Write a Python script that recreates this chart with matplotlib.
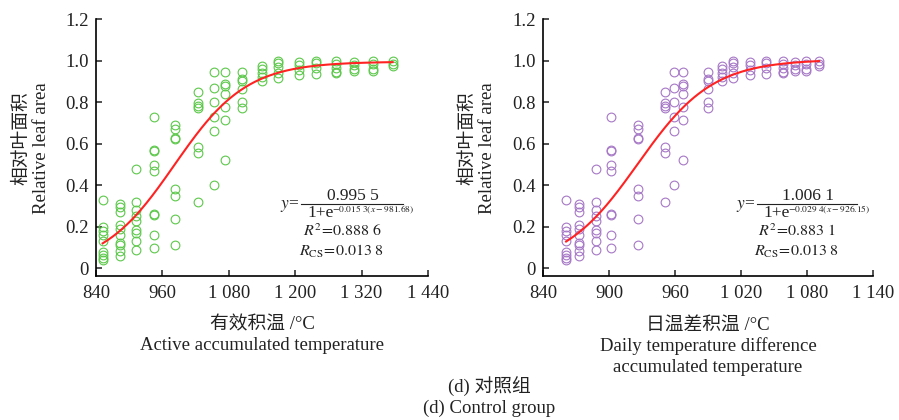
import matplotlib
matplotlib.use("Agg")
import matplotlib.pyplot as plt
from matplotlib.lines import Line2D
import numpy as np

plt.rcParams['font.family'] = ['Liberation Serif', 'Noto Sans CJK SC', 'DejaVu Sans']
plt.rcParams['mathtext.fontset'] = 'stix'

# ---- data ----
# y values of each column of points (same pattern in both panels)
col_y = [
    [0.33, 0.20, 0.18, 0.16, 0.13, 0.08, 0.065, 0.05, 0.04],
    [0.31, 0.295, 0.27, 0.21, 0.19, 0.16, 0.12, 0.11, 0.085, 0.06],
    [0.48, 0.32, 0.28, 0.25, 0.23, 0.185, 0.17, 0.13, 0.09],
    [0.73, 0.57, 0.565, 0.50, 0.47, 0.26, 0.255, 0.16, 0.10],
    [0.69, 0.67, 0.63, 0.625, 0.38, 0.35, 0.24, 0.11],
    [0.85, 0.795, 0.78, 0.77, 0.585, 0.557, 0.32],
    [0.947, 0.87, 0.80, 0.73, 0.66, 0.40],
    [0.947, 0.89, 0.878, 0.84, 0.775, 0.715, 0.52],
    [0.947, 0.91, 0.90, 0.862, 0.80, 0.77],
    [0.974, 0.958, 0.94, 0.92, 0.90],
    [1.0, 0.987, 0.97, 0.94, 0.915],
    [0.995, 0.98, 0.955, 0.93],
    [1.0, 0.987, 0.963, 0.935],
    [1.0, 0.985, 0.963, 0.947, 0.94],
    [0.995, 0.98, 0.958, 0.95],
    [1.0, 0.985, 0.958, 0.95],
    [1.0, 0.985, 0.974],
]
# x position of each column
active_x = [852, 883, 913, 945, 983, 1024, 1053, 1074, 1104, 1140,
            1169, 1207, 1238, 1274, 1307, 1341, 1376]
diff_x = [861, 873, 888, 902, 926, 951, 959, 967, 990, 1003,
          1013, 1028, 1043, 1058, 1069, 1079, 1091]

# logistic fit parameters shown on the chart: y = a / (1 + e^{-b(x - c)})
fit_active = (0.9955, 0.0153, 981.68)
fit_diff = (1.0061, 0.0294, 926.15)

left_xticks = [840, 960, 1080, 1200, 1320, 1440]
left_xticklabels = ['840', '960', '1 080', '1 200', '1 320', '1 440']
right_xticks = [840, 900, 960, 1020, 1080, 1140]
right_xticklabels = ['840', '900', '960', '1 020', '1 080', '1 140']
yticks = [0, 0.2, 0.4, 0.6, 0.8, 1.0, 1.2]
yticklabels = ['0', '0.2', '0.4', '0.6', '0.8', '1.0', '1.2']

left_num = '0.995 5'
left_exp = r'$-0.015\ 3(x-981.68)$'
left_r2 = r'$R^2\!=\!0.888\ 6$'
left_rcs = r'$R_{\mathrm{CS}}\!=\!0.013\ 8$'
right_num = '1.006 1'
right_exp = r'$-0.029\ 4(x-926.15)$'
right_r2 = r'$R^2\!=\!0.883\ 1$'
right_rcs = r'$R_{\mathrm{CS}}\!=\!0.013\ 8$'

# ---- figure ----
W, H = 899, 420
fig = plt.figure(figsize=(W / 100, H / 100), dpi=100)

def fx(px):
    return px / W

def fy(py):
    return 1 - py / H

ax_bottom = fy(275.6)
ax_h = (275.6 - 19.2) / H
axL = fig.add_axes([fx(96), ax_bottom, 332 / W, ax_h])
axR = fig.add_axes([fx(543), ax_bottom, 330 / W, ax_h])

FS = 13.5
tc = '#222222'

def draw(ax, xs, color, fit, xlim, xticks, xticklabels):
    px, py = [], []
    for x, ys in zip(xs, col_y):
        px += [x] * len(ys)
        py += ys
    ax.plot(px, py, linestyle='none', marker='o', markersize=6.3,
            markerfacecolor='none', markeredgecolor=color, markeredgewidth=0.8)
    a, b, c = fit
    xc = np.linspace(xs[0], xs[-1], 300)
    ax.plot(xc, a / (1 + np.exp(-b * (xc - c))), color='#ff2222', lw=1.5)
    ax.set_xlim(*xlim)
    ax.set_ylim(-0.035, 1.2)
    ax.set_xticks(xticks)
    ax.set_xticklabels(xticklabels)
    ax.set_yticks(yticks)
    ax.set_yticklabels(yticklabels)
    for s in ['top', 'right']:
        ax.spines[s].set_visible(False)
    for s in ['left', 'bottom']:
        ax.spines[s].set_linewidth(1.2)
    ax.tick_params(axis='both', direction='in', length=4, width=1.1,
                   labelsize=FS, colors=tc)
    ax.tick_params(axis='x', pad=7)
    ax.tick_params(axis='y', pad=5)

def equation(x_l0, x_l1, num, expo, r2, rcs, x_stats):
    fig.text(fx(x_l0 - 1), fy(206), r'$y$=', ha='right', va='center',
             fontsize=12.5, color=tc)
    fig.add_artist(Line2D([fx(x_l0), fx(x_l1)], [fy(204), fy(204)],
                          transform=fig.transFigure, color=tc, lw=0.8))
    fig.text(fx((x_l0 + x_l1) / 2 + 1), fy(195.5), num, ha='center', va='center',
             fontsize=12.5, color=tc)
    fig.text(fx(x_l0 + 7), fy(213), '1+e', ha='left', va='center',
             fontsize=12.5, color=tc)
    fig.text(fx(x_l0 + 32), fy(209.5), expo, ha='left', va='center',
             fontsize=6.8, color=tc)
    fig.text(fx(x_stats), fy(232), r2, ha='center', va='center',
             fontsize=11.5, color=tc)
    fig.text(fx(x_stats), fy(251), rcs, ha='center', va='center',
             fontsize=11.5, color=tc)

draw(axL, active_x, '#5cc84a', fit_active, (840, 1440), left_xticks, left_xticklabels)
draw(axR, diff_x, '#a678c6', fit_diff, (840, 1140), right_xticks, right_xticklabels)

equation(300.5, 402.5, left_num, left_exp, left_r2, left_rcs, 342)
equation(756.5, 856.5, right_num, right_exp, right_r2, right_rcs, 797)

# y labels
for xc in (22, 468):
    fig.text(fx(xc), fy(138), '相对叶面积', rotation=90, ha='center', va='center',
             fontsize=FS, color=tc)
    fig.text(fx(xc + 19), fy(148), 'Relative leaf area', rotation=90, ha='center',
             va='center', fontsize=FS, color=tc)

# x labels
fig.text(fx(262), fy(325), '有效积温 /°C', ha='center', va='center', fontsize=FS, color=tc)
fig.text(fx(262), fy(346), 'Active accumulated temperature', ha='center', va='center',
         fontsize=FS, color=tc)
fig.text(fx(708), fy(325), '日温差积温 /°C', ha='center', va='center', fontsize=FS, color=tc)
fig.text(fx(708), fy(346), 'Daily temperature difference', ha='center', va='center',
         fontsize=FS, color=tc)
fig.text(fx(708), fy(367), 'accumulated temperature', ha='center', va='center',
         fontsize=FS, color=tc)

# caption
fig.text(fx(489), fy(387), '(d) 对照组', ha='center', va='center', fontsize=FS, color=tc)
fig.text(fx(489), fy(408), '(d) Control group', ha='center', va='center', fontsize=FS, color=tc)

fig.savefig('out.png', dpi=100)
